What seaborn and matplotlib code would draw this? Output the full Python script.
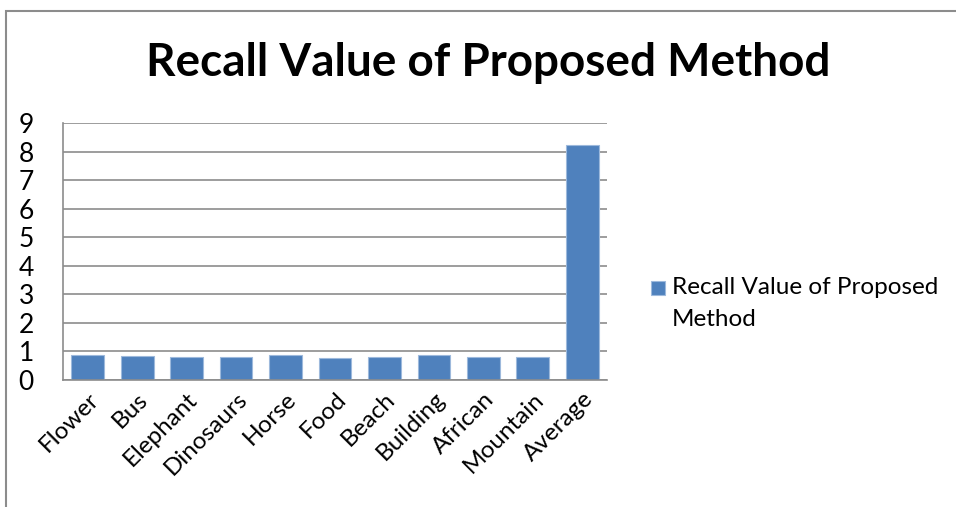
import matplotlib
matplotlib.use("Agg")
import matplotlib.pyplot as plt
import seaborn as sns
import pandas as pd
from matplotlib.patches import Rectangle

categories = ["Flower", "Bus", "Elephant", "Dinosaurs", "Horse", "Food",
              "Beach", "Building", "African", "Mountain", "Average"]
recall = [0.86, 0.83, 0.79, 0.81, 0.86, 0.77, 0.81, 0.86, 0.81, 0.79, 8.24]
series_name = "Recall Value of Proposed Method"

df = pd.DataFrame({"category": categories, "recall": recall, "series": series_name})

sns.set_theme(style="white")
plt.rcParams["font.family"] = ["Lato", "DejaVu Sans"]

fig = plt.figure(figsize=(9.56, 5.07), dpi=100)
ax = fig.add_axes([63 / 956, 1 - 380 / 507, 544 / 956, 257 / 507])

sns.barplot(data=df, x="category", y="recall", hue="series", ax=ax,
            palette=["#4F81BD"], saturation=1, width=0.66,
            edgecolor="#9DB9DC", linewidth=0.8, legend=False)

ax.set_ylim(0, 9)
ax.set_yticks(range(10))
ax.set_xlim(-0.5, len(categories) - 0.5)
ax.yaxis.grid(True, color="#8C8C8C", linewidth=1.2)
ax.set_axisbelow(True)
for s in ["top", "right"]:
    ax.spines[s].set_visible(False)
for s in ["left", "bottom"]:
    ax.spines[s].set_color("#8C8C8C")
    ax.spines[s].set_linewidth(1.2)
ax.set_xlabel("")
ax.set_ylabel("")
ax.tick_params(axis="y", labelsize=19, pad=21, labelcolor="black", length=0)
ax.tick_params(axis="x", labelsize=17.5, length=0, pad=6, labelcolor="black")
for lab in ax.get_xticklabels():
    lab.set_rotation(45)
    lab.set_ha("right")
    lab.set_rotation_mode("anchor")

fig.text(488 / 956, 1 - 63 / 507, "Recall Value of Proposed Method",
         ha="center", va="center", fontsize=33, fontweight="bold", color="black")

# legend
fig.patches.append(Rectangle((651 / 956, 1 - 295 / 507), 14 / 956, 14 / 507,
                             transform=fig.transFigure, facecolor="#4F81BD",
                             edgecolor="#9DB9DC", lw=0.8))
fig.text(672 / 956, 1 - 288 / 507, "Recall Value of Proposed", fontsize=17.5,
         va="center", ha="left", color="black")
fig.text(672 / 956, 1 - 320 / 507, "Method", fontsize=17.5, va="center",
         ha="left", color="black")

# chart border
fig.patches.append(Rectangle((6 / 956, -0.05), 1.1, 1 - 11 / 507 + 0.05,
                             transform=fig.transFigure, fill=False,
                             edgecolor="#8C8C8C", lw=1.5))

fig.savefig("out.png", dpi=100, facecolor="white")
